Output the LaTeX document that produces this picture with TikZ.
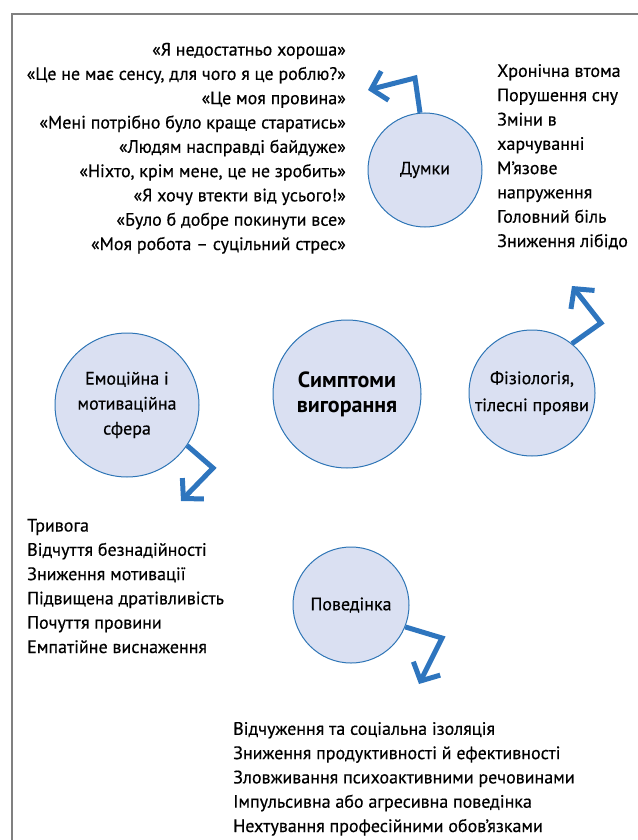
\documentclass[tikz,border=0pt]{standalone}
\usepackage{fontspec}
\setmainfont{PT Sans}
\newfontface\medface{PT Sans}[FakeBold=0.4]
\usetikzlibrary{arrows.meta}
\definecolor{circfill}{RGB}{218,224,242}
\definecolor{circline}{RGB}{46,117,182}
\definecolor{arrowblue}{RGB}{46,117,190}
\definecolor{framegray}{RGB}{128,128,128}
\tikzset{
  bubble/.style={circle, draw=circline, fill=circfill, line width=1pt, align=center, inner sep=0pt,
     font=\medface\fontsize{18}{25}\selectfont},
  listtext/.style={inner sep=0pt, font=\medface\fontsize{18}{24.3}\selectfont},
  bentarrow/.style={draw=arrowblue, line width=5pt, line join=miter,
     -{Straight Barb[length=14pt, width=30pt, line join=miter]}}
}
\begin{document}
\begin{tikzpicture}[x=1pt,y=-1pt]
\useasboundingbox (0,0) rectangle (637,840);
% frame
\draw[framegray, line width=2pt] (640,14) -- (12,14) -- (12,845);

% circles
\node[bubble, minimum size=114pt] (dumky) at (425,170) {Думки};
\node[bubble, minimum size=148pt, font=\bfseries\fontsize{22}{25}\selectfont] (center) at (347,394) {Симптоми\\вигорання};
\node[bubble, minimum size=144pt] (emo) at (127,405) {Емоційна і\\мотиваційна\\сфера};
\node[bubble, minimum size=126pt, font=\medface\fontsize{18}{27}\selectfont] (fiz) at (532,393) {Фізіологія,\\тілесні прояви};
\node[bubble, minimum size=116pt] (pov) at (351,605) {Поведінка};

% text blocks (base anchor = baseline of the last line)
\node[listtext, align=right, anchor=base east] (quotes) at (346,250) {«Я недостатньо хороша»\\
«Це не має сенсу, для чого я це роблю?»\\
«Це моя провина»\\
«Мені потрібно було краще старатись»\\
«Людям насправді байдуже»\\
«Ніхто, крім мене, це не зробить»\\
«Я хочу втекти від усього!»\\
«Було б добре покинути все»\\
«Моя робота – суцільний стрес»};

\node[listtext, align=left, anchor=base west] (fiztext) at (497,247) {Хронічна втома\\
Порушення сну\\
Зміни в\\
харчуванні\\
М’язове\\
напруження\\
Головний біль\\
Зниження лібідо};

\node[listtext, align=left, anchor=base west] (emotext) at (27,653) {Тривога\\
Відчуття безнадійності\\
Зниження мотивації\\
Підвищена дратівливість\\
Почуття провини\\
Емпатійне виснаження};

\node[listtext, align=left, anchor=base west] (povtext) at (233,832) {Відчуження та соціальна ізоляція\\
Зниження продуктивності й ефективності\\
Зловживання психоактивними речовинами\\
Імпульсивна або агресивна поведінка\\
Нехтування професійними обов’язками};

% arrows
\coordinate (dk) at (415,78);
\coordinate (dt) at (368,90);
\draw[bentarrow] (dumky.95) -- (dk) -- (dt);

\coordinate (ek) at (213,468);
\coordinate (et) at (181,501);
\draw[bentarrow] (emo.-34) -- (ek) -- (et);

\coordinate (fk) at (601,323);
\coordinate (ft) at (572,286);
\draw[bentarrow] (fiz.51) -- (fk) -- (ft);

\coordinate (pk) at (442,638);
\coordinate (pt) at (419,684);
\draw[bentarrow] (pov.-22) -- (pk) -- (pt);
\end{tikzpicture}
\end{document}
